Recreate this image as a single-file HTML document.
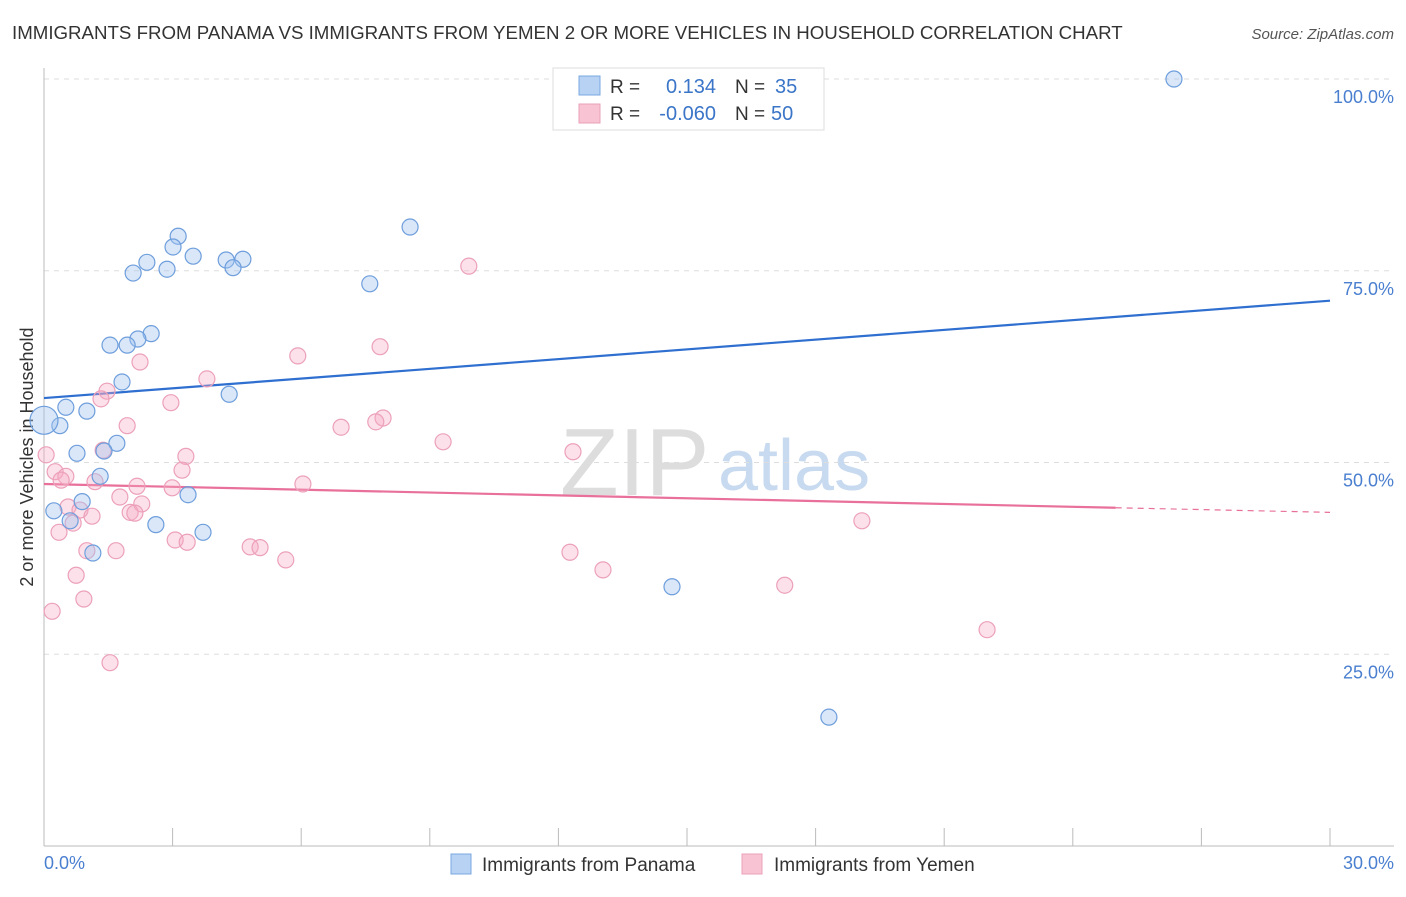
<!DOCTYPE html>
<html><head><meta charset="utf-8"><style>
body{margin:0;background:#fff;font-family:"Liberation Sans",sans-serif}
svg text{font-family:"Liberation Sans",sans-serif}
</style></head><body>
<svg width="1406" height="892" viewBox="0 0 1406 892">
<text x="12" y="39" font-size="18.7" fill="#333">IMMIGRANTS FROM PANAMA VS IMMIGRANTS FROM YEMEN 2 OR MORE VEHICLES IN HOUSEHOLD CORRELATION CHART</text>
<text x="1394" y="39" font-size="15" fill="#555" font-style="italic" text-anchor="end">Source: ZipAtlas.com</text>
<text x="560" y="495" font-size="96" fill="#ddd" font-family="Liberation Serif">ZIP</text>
<text x="718" y="490" font-size="72" fill="#c8daf0">atlas</text>
<g id="grid"></g>
<line x1="44" y1="68" x2="44" y2="846" stroke="#bbb"/>
<line x1="44" y1="846" x2="1394" y2="846" stroke="#bbb"/>
<g id="xticks"></g>
<text x="44" y="869" font-size="18" fill="#4a7fd0">0.0%</text>
<text x="1394" y="869" font-size="18" fill="#4a7fd0" text-anchor="end">30.0%</text>
<text transform="translate(33,457) rotate(-90)" font-size="18" fill="#333" text-anchor="middle">2 or more Vehicles in Household</text>
<g id="lines"></g>
<g id="pts"></g>
<g>
<rect x="553" y="68" width="271" height="62" fill="#fff" stroke="#ddd"/>
<rect x="579" y="76" width="21" height="19" fill="#b8d2f4" stroke="#7aa8e0"/>
<rect x="579" y="104" width="21" height="19" fill="#f8c4d4" stroke="#eaa0b8"/>
<text x="610" y="93" font-size="19" fill="#333">R =</text>
<text x="716" y="93" font-size="20" fill="#3a75c8" text-anchor="end">0.134</text>
<text x="735" y="93" font-size="19" fill="#333">N =</text>
<text x="775" y="93" font-size="20" fill="#3a75c8">35</text>
<text x="610" y="120" font-size="19" fill="#333">R =</text>
<text x="716" y="120" font-size="20" fill="#3a75c8" text-anchor="end">-0.060</text>
<text x="735" y="120" font-size="19" fill="#333">N =</text>
<text x="771" y="120" font-size="20" fill="#3a75c8">50</text>
</g>
<g>
<rect x="451" y="854" width="20" height="20" fill="#b8d2f4" stroke="#7aa8e0"/>
<text x="482" y="871" font-size="19" fill="#333">Immigrants from Panama</text>
<rect x="742" y="854" width="20" height="20" fill="#f8c4d4" stroke="#eaa0b8"/>
<text x="774" y="871" font-size="19" fill="#333">Immigrants from Yemen</text>
</g>
</svg>
<script>
const blueX=[26.36,8.54,3.13,3.01,3.48,2.40,4.25,4.64,4.41,2.87,2.08,7.60,2.50,2.19,1.54,1.94,1.82,4.32,0.51,1.00,0.37,0.0,1.70,1.40,0.77,1.31,0.89,3.36,0.23,0.61,2.61,3.71,1.14,14.65,18.31];
const blueY=[100,80.7,79.5,78.1,76.9,76.1,76.4,76.5,75.4,75.2,74.7,73.3,66.8,66.1,65.3,65.3,60.5,58.9,57.2,56.7,54.8,55.5,52.5,51.5,51.2,48.2,44.9,45.8,43.7,42.4,41.9,40.9,38.2,33.8,16.8];
const pinkX=[9.91,7.84,5.92,2.24,3.80,1.47,1.33,2.96,7.91,7.74,6.93,1.94,9.31,1.38,12.34,3.31,0.05,3.22,0.26,0.51,0.40,1.19,2.17,6.04,2.99,1.77,2.28,0.56,0.84,2.01,1.12,2.12,0.68,19.08,0.35,3.06,3.34,4.81,5.04,1.00,1.68,12.27,5.64,13.04,0.75,17.28,0.93,0.19,22.00,1.54];
const pinkY=[75.6,65.1,63.9,63.1,60.9,59.3,58.3,57.8,55.8,55.3,54.6,54.8,52.7,51.6,51.4,50.8,51.0,49.0,48.8,48.2,47.7,47.5,46.9,47.2,46.7,45.5,44.6,44.2,43.8,43.5,43.0,43.4,42.1,42.4,40.9,39.9,39.6,39.0,38.9,38.5,38.5,38.3,37.3,36.0,35.3,34.0,32.2,30.6,28.2,23.9];
const blueTrend=[58.4,71.1];
const pinkTrend=[47.2,44.1,43.5];
const yTicks=[25,50,75,100];
const yTickLabels=["25.0%","50.0%","75.0%","100.0%"];
const NS="http://www.w3.org/2000/svg";
const sx=v=>44+v*(1286/30);
const sy=v=>846-v*7.67;
function mk(tag,attrs,parent){const e=document.createElementNS(NS,tag);for(const k in attrs)e.setAttribute(k,attrs[k]);document.getElementById(parent).appendChild(e);return e;}
yTicks.forEach((t,i)=>{
 const l=mk('line',{x1:44,x2:1394,y1:sy(t),y2:sy(t),stroke:'#ddd','stroke-dasharray':'5,5'},'grid');
 
 
 const tx=mk('text',{x:1394,y:sy(t)+24,'font-size':18,fill:'#4a7fd0','text-anchor':'end'},'grid');
 tx.textContent=yTickLabels[i];
 
 
});
for(let i=1;i<=10;i++){
 const l=mk('line',{x1:sx(i*3),x2:sx(i*3),y1:828,y2:846,stroke:'#bbb'},'xticks');
 
 
}
let b=mk('line',{x1:sx(0),y1:sy(blueTrend[0]),x2:sx(30),y2:sy(blueTrend[1]),stroke:'#2f6fd0','stroke-width':2.2},'lines');


let p=mk('line',{x1:sx(0),y1:sy(pinkTrend[0]),x2:sx(25),y2:sy(pinkTrend[1]),stroke:'#e8709a','stroke-width':2.2},'lines');


let pd=mk('line',{x1:sx(25),y1:sy(pinkTrend[1]),x2:sx(30),y2:sy(pinkTrend[2]),stroke:'#e8709a','stroke-width':1.2,'stroke-dasharray':'6,5'},'lines');


pinkX.forEach((x,i)=>{
 const c=mk('circle',{cx:sx(x),cy:sy(pinkY[i]),r:8,fill:'rgba(245,170,195,0.35)',stroke:'#eca0ba','stroke-width':1.2},'pts');
 
 
});
blueX.forEach((x,i)=>{
 const c=mk('circle',{cx:sx(x),cy:sy(blueY[i]),r:i==21?14:8,fill:'rgba(160,195,240,0.4)',stroke:'#6e9edc','stroke-width':1.2},'pts');
 
 
});
</script>
</body></html>
